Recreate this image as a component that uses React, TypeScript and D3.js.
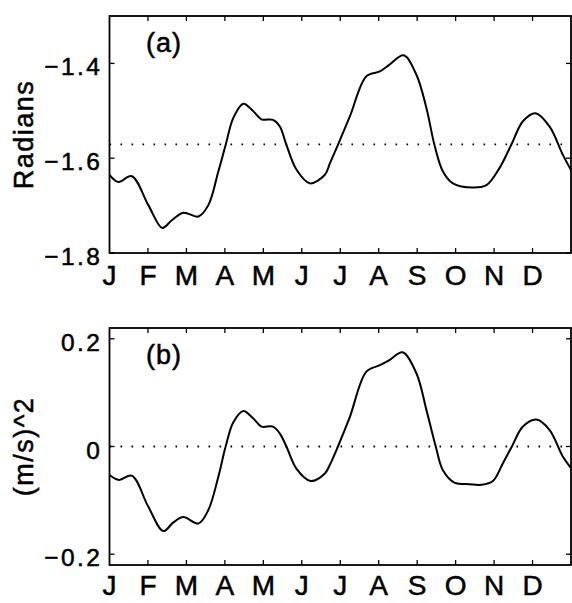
import React from "react";
import * as d3 from "d3";

const monthLabels = ["J", "F", "M", "A", "M", "J", "J", "A", "S", "O", "N", "D"];

const topMonths = [0, 0.23, 0.58, 1.01, 1.37, 1.62, 1.92, 2.31, 2.57, 2.83, 3.02, 3.22, 3.48, 3.74, 3.95, 4.25, 4.43, 4.6, 4.86, 5.21, 5.6, 5.73, 5.94, 6.25, 6.68, 7.03, 7.29, 7.65, 7.98, 8.24, 8.45, 8.67, 8.93, 9.45, 9.8, 10.14, 10.45, 10.75, 11.08, 11.44, 11.79, 12];
const topValues = [-1.635, -1.65, -1.638, -1.699, -1.747, -1.731, -1.715, -1.723, -1.699, -1.628, -1.572, -1.515, -1.485, -1.501, -1.518, -1.519, -1.533, -1.572, -1.624, -1.653, -1.635, -1.611, -1.572, -1.512, -1.427, -1.417, -1.402, -1.383, -1.424, -1.494, -1.572, -1.628, -1.653, -1.662, -1.657, -1.621, -1.571, -1.522, -1.505, -1.533, -1.593, -1.625];
const topTicks = [-1.8, -1.6, -1.4];
const topTickLabels = ["\u22121.8", "\u22121.6", "\u22121.4"];
const topRef = -Math.PI / 2;

const botMonths = [0, 0.25, 0.58, 1.01, 1.4, 1.66, 1.92, 2.31, 2.57, 2.83, 3.02, 3.22, 3.48, 3.74, 3.95, 4.25, 4.43, 4.6, 4.86, 5.23, 5.6, 5.73, 5.94, 6.25, 6.68, 7.03, 7.29, 7.62, 7.98, 8.24, 8.48, 8.67, 8.97, 9.36, 9.67, 9.97, 10.23, 10.47, 10.75, 11.1, 11.44, 11.79, 12];
const botValues = [-0.053, -0.062, -0.054, -0.112, -0.157, -0.141, -0.131, -0.143, -0.118, -0.056, 0.0, 0.045, 0.066, 0.052, 0.037, 0.037, 0.024, 0.0, -0.041, -0.064, -0.05, -0.034, 0.0, 0.055, 0.139, 0.151, 0.161, 0.175, 0.136, 0.068, 0.001, -0.044, -0.067, -0.07, -0.071, -0.064, -0.031, 0.001, 0.037, 0.05, 0.031, -0.019, -0.04];
const botTicks = [-0.2, 0, 0.2];
const botTickLabels = ["\u22120.2", "0", "0.2"];
const botRef = 0;

const FONT = "'Liberation Sans', Arial, Helvetica, sans-serif";

type PanelProps = {
  top: number;
  months: number[];
  values: number[];
  domain: [number, number];
  ticks: number[];
  tickLabels: string[];
  ref0: number;
  ylabel: string;
  tag: string;
  monthGap: number;
};

const L = 109.5;
const R = 571;
const H = 237;

function Panel({ top, months, values, domain, ticks, tickLabels, ref0, ylabel, tag, monthGap }: PanelProps) {
  const x = d3.scaleLinear().domain([0, 12]).range([L, R]);
  const y = d3.scaleLinear().domain(domain).range([top + H, top]);
  const line = d3
    .line<number>()
    .x((_, i) => x(months[i]))
    .y((v) => y(v))
    .curve(d3.curveCatmullRom.alpha(0.5));
  const tl = 5;
  const xt = d3.range(1, 12);
  const textStroke = { stroke: "#000", strokeWidth: 0.5 };
  return (
    <g>
      <line x1={L} x2={R} y1={y(ref0)} y2={y(ref0)} stroke="#000" strokeWidth={1.8} strokeDasharray="1.6 9.4" />
      <path d={line(values) || ""} fill="none" stroke="#000" strokeWidth={2} />
      <rect x={L} y={top} width={R - L} height={H} fill="none" stroke="#000" strokeWidth={1.8} />
      {xt.map((m) => (
        <g key={"xt" + m}>
          <line x1={x(m)} x2={x(m)} y1={top + H} y2={top + H - tl} stroke="#000" strokeWidth={1.3} />
          <line x1={x(m)} x2={x(m)} y1={top} y2={top + tl} stroke="#000" strokeWidth={1.3} />
        </g>
      ))}
      {ticks.map((t) => (
        <g key={"yt" + t}>
          <line x1={L} x2={L + tl} y1={y(t)} y2={y(t)} stroke="#000" strokeWidth={1.3} />
          <line x1={R} x2={R - tl} y1={y(t)} y2={y(t)} stroke="#000" strokeWidth={1.3} />
        </g>
      ))}
      {ticks.map((t, i) => (
        <text key={"yl" + t} x={L - 7} y={y(t) + 12} textAnchor="end" fontSize={24.5} letterSpacing={2.5} fontFamily={FONT} {...textStroke}>
          {tickLabels[i]}
        </text>
      ))}
      {monthLabels.map((m, i) => (
        <text key={"ml" + i} x={x(i)} y={top + H + monthGap} textAnchor="middle" fontSize={28} fontFamily={FONT} {...textStroke}>
          {m}
        </text>
      ))}
      <text
        transform={`translate(33, ${top + H / 2}) rotate(-90)`}
        textAnchor="middle"
        fontSize={27}
        letterSpacing={1.5}
        fontFamily={FONT}
        {...textStroke}
      >
        {ylabel}
      </text>
      <text x={146} y={top + 36} fontSize={27} letterSpacing={1} fontFamily={FONT} {...textStroke}>
        {tag}
      </text>
    </g>
  );
}

export default function App() {
  return (
    <svg width={572} height={603} style={{ position: "absolute", left: 0, top: 0, background: "#fff" }}>
      <rect x={0} y={0} width={572} height={603} fill="#fff" />
      <Panel
        top={16}
        months={topMonths}
        values={topValues}
        domain={[-1.8, -1.3]}
        ticks={topTicks}
        tickLabels={topTickLabels}
        ref0={topRef}
        ylabel="Radians"
        tag="(a)"
        monthGap={32}
      />
      <Panel
        top={328}
        months={botMonths}
        values={botValues}
        domain={[-0.22, 0.22]}
        ticks={botTicks}
        tickLabels={botTickLabels}
        ref0={botRef}
        ylabel="(m/s)^2"
        tag="(b)"
        monthGap={30}
      />
    </svg>
  );
}
